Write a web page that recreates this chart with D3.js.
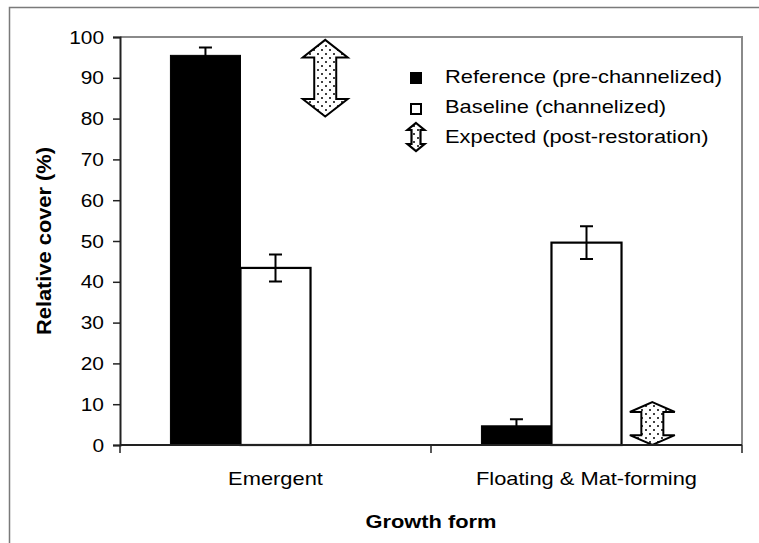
<!DOCTYPE html>
<html>
<head>
<meta charset="utf-8">
<script src="https://cdn.jsdelivr.net/npm/d3@7"></script>
<style>
  html, body { margin: 0; padding: 0; background: #fff; }
  svg { display: block; }
  text { font-family: Arial, "Liberation Sans", sans-serif; fill: #000; }
</style>
</head>
<body>
<svg id="chart" width="759" height="543"></svg>
<script>
// ---- data ----
const categories = ["Emergent", "Floating & Mat-forming"];
const seriesNames = ["Reference (pre-channelized)", "Baseline (channelized)", "Expected (post-restoration)"];
const referenceValues = [95.5, 4.7];
const referenceErrors = [1.9, 1.6];
const baselineValues = [43.4, 49.6];
const baselineErrors = [3.3, 4.0];
const expectedLow = [80.5, 0];
const expectedHigh = [99.3, 10.5];
const yTicks = [0, 10, 20, 30, 40, 50, 60, 70, 80, 90, 100];
const yTitle = "Relative cover (%)";
const xTitle = "Growth form";

// ---- layout ----
const svg = d3.select("#chart");
const pLeft = 120, pRight = 742, pTop = 37, pBottom = 445;
const STRETCH = 1.15;

function stretch(sel, k) {
  sel.each(function () {
    const w = this.getComputedTextLength();
    d3.select(this).attr("textLength", w * (k || STRETCH)).attr("lengthAdjust", "spacingAndGlyphs");
  });
}

// pattern for expected arrows
const defs = svg.append("defs");
const pat = defs.append("pattern").attr("id", "dots").attr("patternUnits", "userSpaceOnUse")
  .attr("width", 8).attr("height", 8);
pat.append("rect").attr("width", 8).attr("height", 8).attr("fill", "#fff");
pat.append("circle").attr("cx", 2).attr("cy", 2).attr("r", 1).attr("fill", "#000");
pat.append("circle").attr("cx", 6).attr("cy", 6).attr("r", 1).attr("fill", "#000");

// outer frame
svg.append("rect").attr("x", 9.5).attr("y", 7.5).attr("width", 800).attr("height", 600)
  .attr("fill", "#fff").attr("stroke", "#7a7a7a").attr("stroke-width", 1.5);

const x0 = d3.scaleBand().domain(categories).range([pLeft, pRight]).padding(0);
const x1 = d3.scaleBand().domain(seriesNames).range([0, x0.bandwidth()]).paddingInner(0).paddingOuter(0.72);
const y = d3.scaleLinear().domain([0, 100]).range([pBottom, pTop]);

// plot frame (top & right gray)
svg.append("path")
  .attr("d", `M${pLeft},${pTop}H${pRight}V${pBottom}`)
  .attr("fill", "none").attr("stroke", "#8a8a8a").attr("stroke-width", 2);

// bars
const refS = seriesNames[0], baseS = seriesNames[1], expS = seriesNames[2];
const g = svg.append("g");
categories.forEach((c, i) => {
  g.append("rect")
    .attr("x", x0(c) + x1(refS)).attr("y", y(referenceValues[i]))
    .attr("width", x1.bandwidth()).attr("height", y(0) - y(referenceValues[i]))
    .attr("fill", "#000").attr("stroke", "#000").attr("stroke-width", 1);
  g.append("rect")
    .attr("x", x0(c) + x1(baseS)).attr("y", y(baselineValues[i]))
    .attr("width", x1.bandwidth()).attr("height", y(0) - y(baselineValues[i]))
    .attr("fill", "#fff").attr("stroke", "#000").attr("stroke-width", 2.2);
});

// error bars
function errBar(cx, v, e) {
  const cap = 6.5;
  g.append("path")
    .attr("d", `M${cx},${y(v + e)}V${y(v - e)}M${cx - cap},${y(v + e)}H${cx + cap}M${cx - cap},${y(v - e)}H${cx + cap}`)
    .attr("stroke", "#000").attr("stroke-width", 2).attr("fill", "none");
}
categories.forEach((c, i) => {
  errBar(x0(c) + x1(refS) + x1.bandwidth() / 2, referenceValues[i], referenceErrors[i]);
  errBar(x0(c) + x1(baseS) + x1.bandwidth() / 2, baselineValues[i], baselineErrors[i]);
});

// double arrows
function arrowPath(cx, yT, yB, hw, sw, hh) {
  return `M${cx},${yT}L${cx + hw / 2},${yT + hh}L${cx + sw / 2},${yT + hh}L${cx + sw / 2},${yB - hh}` +
    `L${cx + hw / 2},${yB - hh}L${cx},${yB}L${cx - hw / 2},${yB - hh}L${cx - sw / 2},${yB - hh}` +
    `L${cx - sw / 2},${yT + hh}L${cx - hw / 2},${yT + hh}Z`;
}
const arrowShift = [0.21, 0.44];
categories.forEach((c, i) => {
  const cx = x0(c) + x1(expS) + x1.bandwidth() * arrowShift[i];
  const yT = y(expectedHigh[i]), yB = y(expectedLow[i]);
  g.append("path").attr("d", arrowPath(cx, yT, yB, 45, 22, 0.23 * (yB - yT)))
    .attr("fill", "url(#dots)").attr("stroke", "#000").attr("stroke-width", 2).attr("stroke-linejoin", "miter");
});

// axes
const yAxis = svg.append("g").attr("transform", `translate(${pLeft},0)`)
  .call(d3.axisLeft(y).tickValues(yTicks).tickSize(7).tickPadding(9).tickFormat(d3.format("d")));
yAxis.select(".domain").attr("stroke", "#222").attr("stroke-width", 2);
yAxis.selectAll(".tick line").attr("stroke", "#222").attr("stroke-width", 1.5);
yAxis.selectAll(".tick text").attr("font-size", 19).attr("font-family", "Arial, 'Liberation Sans', sans-serif").attr("fill", "#000").call(stretch, 1.1);

const xAxis = svg.append("g").attr("transform", `translate(0,${pBottom})`);
xAxis.append("path").attr("d", `M${pLeft},0H${pRight}`).attr("stroke", "#222").attr("stroke-width", 2);
const xBounds = categories.map(c => x0(c)).concat([pRight]);
xAxis.selectAll("line.tk").data(xBounds).join("line").attr("class", "tk")
  .attr("x1", d => d).attr("x2", d => d).attr("y1", 0).attr("y2", 8)
  .attr("stroke", "#222").attr("stroke-width", 1.5);
xAxis.selectAll("text.cat").data(categories).join("text").attr("class", "cat")
  .attr("x", d => x0(d) + x0.bandwidth() / 2).attr("y", 40)
  .attr("text-anchor", "middle").attr("font-size", 19).text(d => d).call(stretch);

// axis titles
svg.append("text").attr("x", (pLeft + pRight) / 2).attr("y", 528).attr("text-anchor", "middle")
  .attr("font-size", 19).attr("font-weight", "bold").text(xTitle).call(stretch);
svg.append("text").attr("transform", `translate(51,${(pTop + pBottom) / 2}) rotate(-90)`)
  .attr("text-anchor", "middle").attr("font-size", 20).attr("font-weight", "bold").text(yTitle)
  .attr("textLength", 188).attr("lengthAdjust", "spacingAndGlyphs");

// legend
const leg = svg.append("g");
const legY = [83, 113, 143];
leg.append("rect").attr("x", 410).attr("y", legY[0] - 11).attr("width", 12).attr("height", 12).attr("fill", "#000");
leg.append("rect").attr("x", 411).attr("y", legY[1] - 9).attr("width", 10).attr("height", 10)
  .attr("fill", "#fff").attr("stroke", "#000").attr("stroke-width", 2);
leg.append("path").attr("d", arrowPath(416, legY[2] - 20, legY[2] + 8, 17, 9, 7))
  .attr("fill", "url(#dots)").attr("stroke", "#000").attr("stroke-width", 2.2);
leg.selectAll("text").data(seriesNames).join("text")
  .attr("x", 445).attr("y", (d, i) => legY[i]).attr("font-size", 19).text(d => d).call(stretch);
</script>
</body>
</html>
